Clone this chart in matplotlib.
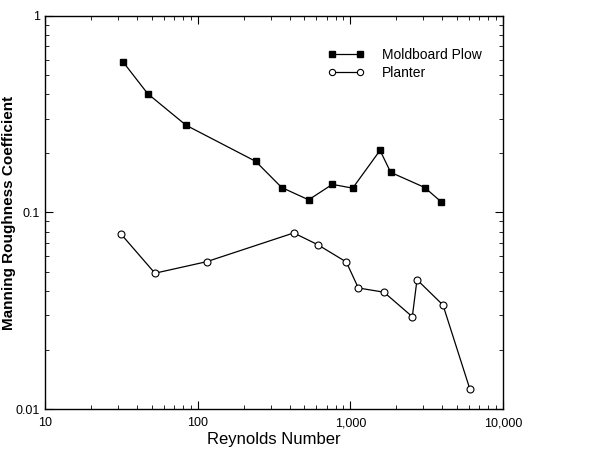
import numpy as np
import matplotlib.pyplot as plt
from matplotlib.ticker import FixedLocator, FixedFormatter, LogLocator, NullFormatter

plt.rcParams['font.family'] = ['Liberation Sans', 'DejaVu Sans']

# Moldboard plow
plow_re = [32.6, 47.1, 83.9, 240, 355, 533, 762, 1036, 1565, 1838, 3070, 3925]
plow_n = [0.581, 0.402, 0.278, 0.182, 0.134, 0.116, 0.139, 0.133, 0.207, 0.160, 0.134, 0.1135]

# Planter
plant_re = [31.6, 52.5, 114.6, 426, 611, 941, 1128, 1661, 2546, 2733, 4045, 6052]
plant_n = [0.0774, 0.0491, 0.0562, 0.0787, 0.0686, 0.0560, 0.0413, 0.0393, 0.0295, 0.0455, 0.0338, 0.0127]

x_ticks = [10, 100, 1000, 10000]
x_labels = ['10', '100', '1,000', '10,000']
y_ticks = [0.01, 0.1, 1]
y_labels = ['0.01', '0.1', '1']

fig = plt.figure(figsize=(6.16, 4.55), dpi=100)
ax = fig.add_axes([0.073, 0.101, 0.7436, 0.864])

ax.plot(plow_re, plow_n, '-', color='black', lw=0.9, marker='s', ms=5,
        mfc='black', mec='black', label='Moldboard Plow')
ax.plot(plant_re, plant_n, '-', color='black', lw=0.9, marker='o', ms=5,
        mfc='white', mec='black', mew=0.8, label='Planter')

ax.set_xscale('log')
ax.set_yscale('log')
ax.set_xlim(10, 10000)
ax.set_ylim(0.01, 1)

ax.xaxis.set_major_locator(FixedLocator(x_ticks))
ax.xaxis.set_major_formatter(FixedFormatter(x_labels))
ax.yaxis.set_major_locator(FixedLocator(y_ticks))
ax.yaxis.set_major_formatter(FixedFormatter(y_labels))
ax.xaxis.set_minor_locator(LogLocator(base=10, subs=np.arange(2, 10)))
ax.yaxis.set_minor_locator(LogLocator(base=10, subs=np.arange(2, 10)))
ax.xaxis.set_minor_formatter(NullFormatter())
ax.yaxis.set_minor_formatter(NullFormatter())

ax.tick_params(which='both', direction='in', top=True, right=True, labelsize=9)
ax.tick_params(which='major', length=6, width=0.8)
ax.tick_params(which='minor', length=3, width=0.6)
ax.tick_params(axis='x', pad=6)

for s in ax.spines.values():
    s.set_linewidth(1.0)

ax.set_xlabel('Reynolds Number', fontsize=12, labelpad=2)
ax.set_ylabel('Manning Roughness Coefficient', fontsize=11, fontweight='bold')
ax.yaxis.set_label_coords(-0.064, 0.5)

ax.legend(loc='upper left', bbox_to_anchor=(0.59, 0.95), frameon=False,
          fontsize=10, numpoints=2, markerscale=0.9, handlelength=2.6,
          handletextpad=1.3, labelspacing=0.25)

fig.savefig('out.png', dpi=100)
